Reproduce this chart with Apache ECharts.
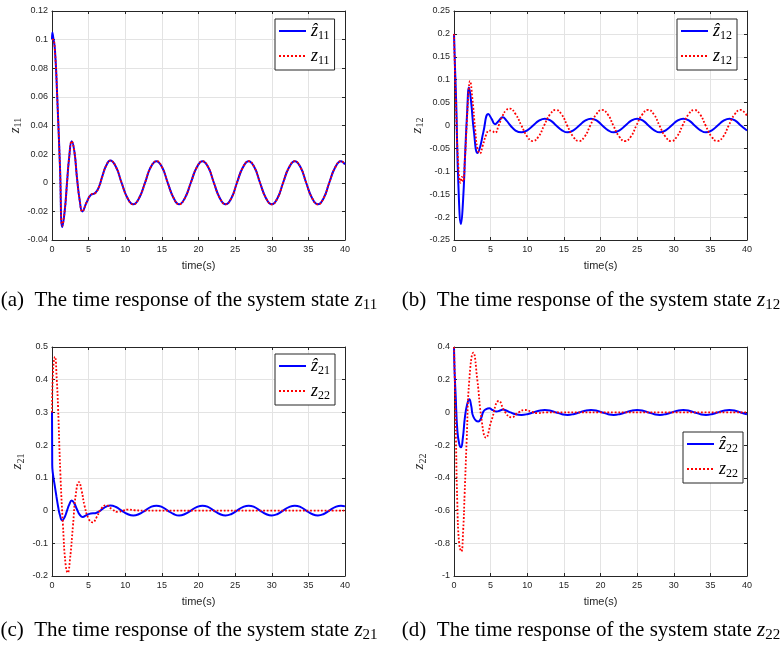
<!DOCTYPE html>
<html>
<head>
<meta charset="utf-8">
<script src="https://cdn.jsdelivr.net/npm/echarts@6/dist/echarts.min.js"></script>
<style>
    html, body { margin: 0; padding: 0; background: #fff; }
    #main { width: 783px; height: 648px; }
</style>
</head>
<body>
<div id="main"></div>
<script>
// axis ranges: [min, max, interval]
var timeRange = [0, 40, 5];
var yRangeA = [-0.04, 0.12, 0.02];
var yRangeB = [-0.25, 0.25, 0.05];
var yRangeC = [-0.2, 0.5, 0.1];
var yRangeD = [-1, 0.4, 0.2];

// steady oscillation read from (a) / (c), shared by the overlapping curves
var tailA = [[7.95, 0.0155], [8.74, 0.011], [9.5, 0], [10.3, -0.0106], [11.1, -0.0151], [11.9, -0.0106],
    [12.7, 0], [13.45, 0.0106], [14.25, 0.0151], [15.05, 0.0106], [15.8, 0], [16.6, -0.0106],
    [17.35, -0.0151], [18.15, -0.0106], [18.95, 0], [19.75, 0.0106], [20.55, 0.0151], [21.35, 0.0106],
    [22.1, 0], [22.9, -0.0106], [23.7, -0.0151], [24.5, -0.0106], [25.25, 0], [26.05, 0.0106],
    [26.85, 0.0151], [27.65, 0.0106], [28.4, 0], [29.2, -0.0106], [30.0, -0.0151], [30.8, -0.0106],
    [31.55, 0], [32.35, 0.0106], [33.15, 0.0151], [33.95, 0.0106], [34.7, 0], [35.5, -0.0106],
    [36.3, -0.0151], [37.1, -0.0106], [37.85, 0], [38.65, 0.0106], [39.45, 0.0151], [40, 0.0128]];

// steady oscillation of the blue estimate in (b) / (d)
var tailB = [[7.2, 0.01], [7.7, 0], [8.4, -0.011], [9.2, -0.015], [10.0, -0.0106], [10.8, 0],
    [11.6, 0.0106], [12.4, 0.015], [13.2, 0.0106], [13.95, 0], [14.75, -0.0106], [15.5, -0.015],
    [16.3, -0.0106], [17.1, 0], [17.9, 0.0106], [18.7, 0.015], [19.5, 0.0106], [20.25, 0],
    [21.05, -0.0106], [21.8, -0.015], [22.6, -0.0106], [23.4, 0], [24.2, 0.0106], [25.0, 0.015],
    [25.8, 0.0106], [26.55, 0], [27.35, -0.0106], [28.1, -0.015], [28.9, -0.0106], [29.7, 0],
    [30.5, 0.0106], [31.3, 0.015], [32.1, 0.0106], [32.85, 0], [33.65, -0.0106], [34.4, -0.015],
    [35.2, -0.0106], [36.0, 0], [36.8, 0.0106], [37.6, 0.015], [38.4, 0.0106], [39.15, 0], [40, -0.011]];

var z11Hat = [[0, 0.1], [0.05, 0.105], [0.15, 0.102], [0.4, 0.093], [0.73, 0.058], [1.09, 0.011],
    [1.41, -0.031], [1.75, -0.019], [2.05, 0], [2.35, 0.018], [2.69, 0.029], [3.05, 0.022], [3.4, 0.004],
    [3.8, -0.013], [4.14, -0.02], [4.7, -0.014], [5.3, -0.0085], [5.9, -0.0072], [6.4, -0.003],
    [6.9, 0.005], [7.4, 0.012]].concat(tailA);

var z11 = [[0, 0.1], [0.15, 0.1], [0.4, 0.092], [0.73, 0.058], [1.09, 0.011], [1.41, -0.03],
    [1.75, -0.019], [2.05, 0], [2.35, 0.018], [2.69, 0.029], [3.05, 0.022], [3.4, 0.004], [3.8, -0.013],
    [4.14, -0.02], [4.7, -0.014], [5.3, -0.0085], [5.9, -0.0072], [6.4, -0.003], [6.9, 0.005],
    [7.4, 0.012]].concat(tailA);

var z12Hat = [[0, 0.2], [0.15, 0.12], [0.3, 0.05], [0.6, -0.13], [0.96, -0.215], [1.25, -0.16],
    [1.5, -0.07], [1.8, 0.03], [2.05, 0.083], [2.35, 0.05], [2.7, -0.01], [3.23, -0.06], [3.6, -0.045],
    [4.0, -0.015], [4.69, 0.025], [5.15, 0.014], [5.6, 0.003], [6.1, 0.01], [6.64, 0.018]].concat(tailB);

var z12 = [[0, 0.2], [0.3, 0.03], [0.6, -0.09], [0.9, -0.125], [1.08, -0.112], [1.25, -0.122],
    [1.5, -0.07], [1.73, 0], [2.0, 0.075], [2.18, 0.097], [2.5, 0.06], [2.9, -0.01], [3.2, -0.05],
    [3.55, -0.061], [3.9, -0.045], [4.4, -0.02], [4.8, -0.011], [5.2, -0.012], [5.6, -0.016], [6.1, 0],
    [6.6, 0.02], [7.1, 0.033], [7.6, 0.037], [8.4, 0.025], [9.2, 0], [10.0, -0.024], [10.75, -0.034],
    [11.55, -0.024], [12.3, 0], [13.1, 0.024], [13.9, 0.034], [14.7, 0.024], [15.45, 0], [16.25, -0.024],
    [17.05, -0.034], [17.85, -0.024], [18.6, 0], [19.4, 0.024], [20.2, 0.034], [21.0, 0.024], [21.75, 0],
    [22.55, -0.024], [23.35, -0.034], [24.15, -0.024], [24.9, 0], [25.7, 0.024], [26.5, 0.034],
    [27.3, 0.024], [28.05, 0], [28.85, -0.024], [29.65, -0.034], [30.45, -0.024], [31.2, 0], [32.0, 0.024],
    [32.8, 0.034], [33.6, 0.024], [34.35, 0], [35.15, -0.024], [35.95, -0.034], [36.75, -0.024], [37.5, 0],
    [38.3, 0.024], [39.1, 0.034], [40, 0.021]];

var z21Hat = [[0, 0.303], [0.03, 0.14], [0.14, 0.11], [0.35, 0.08], [0.6, 0.044], [0.85, 0.01],
    [1.05, -0.011], [1.4, -0.03], [1.75, -0.019], [2.05, 0], [2.35, 0.018], [2.69, 0.031], [3.05, 0.022],
    [3.4, 0.004], [3.8, -0.013], [4.19, -0.0195], [4.7, -0.014], [5.3, -0.009], [5.9, -0.008],
    [6.4, -0.003], [6.9, 0.005], [7.4, 0.012]].concat(tailA);

var z22c = [[0, 0.3], [0.15, 0.43], [0.41, 0.47], [0.65, 0.4], [0.82, 0.32], [1.14, 0.115],
    [1.5, -0.047], [1.86, -0.165], [2.15, -0.19], [2.45, -0.15], [2.86, -0.047], [3.25, 0.05],
    [3.68, 0.087], [4.05, 0.06], [4.45, 0.014], [5.0, -0.025], [5.55, -0.036], [6.1, -0.02], [6.7, 0.005],
    [7.45, 0.016], [8.2, 0.004], [9.0, -0.004], [9.7, 0], [10.4, 0.003], [11.3, 0.001], [12.5, 0],
    [20, 0], [30, 0], [40, 0]];

var z22Hat = [[0, 0.4], [0.08, 0.25], [0.23, 0.1], [0.45, -0.107], [0.7, -0.19], [0.95, -0.213],
    [1.2, -0.16], [1.5, -0.026], [1.8, 0.05], [2.09, 0.08], [2.35, 0.04], [2.64, -0.026], [3.32, -0.056],
    [3.7, -0.035], [4.0, 0.004], [4.4, 0.02], [4.82, 0.025], [5.3, 0.014], [5.8, 0.006], [6.2, 0.01],
    [6.7, 0.018]].concat(tailB);

var z22d = [[0, 0.4], [0.09, 0.24], [0.27, -0.17], [0.45, -0.55], [0.7, -0.8], [1.0, -0.85],
    [1.25, -0.72], [1.45, -0.5], [1.73, -0.17], [2.09, 0.2], [2.64, 0.365], [3.18, 0.2], [3.77, -0.045],
    [4.36, -0.154], [5.14, -0.046], [6.14, 0.07], [6.95, 0.004], [7.86, -0.03], [8.8, 0], [9.7, 0.015],
    [10.6, 0.004], [11.4, -0.004], [12.5, 0], [20, 0], [30, 0], [40, 0]];

var panelSub = ['11', '12', '21', '22'];
var panelTag = ['(a)', '(b)', '(c)', '(d)'];
var legendNames = [['z11Hat', 'z11'], ['z12Hat', 'z12'], ['z21Hat', 'z22c'], ['z22Hat', 'z22d']];
var legendLabels = {
    z11Hat: '{z|ẑ}{s|11}', z11: '{z|z}{s|11}',
    z12Hat: '{z|ẑ}{s|12}', z12: '{z|z}{s|12}',
    z21Hat: '{z|ẑ}{s|21}', z22c: '{z|z}{s|22}',
    z22Hat: '{z|ẑ}{s|22}', z22d: '{z|z}{s|22}'
};

var grids = [
    {left: 52, top: 11, width: 293, height: 229},
    {left: 454, top: 11, width: 293, height: 229},
    {left: 52, top: 347, width: 293, height: 229},
    {left: 454, top: 347, width: 293, height: 229}
];
var legendPos = [[275, 19], [677, 19], [275, 354], [683, 432]];
var captionPos = [[189, 300], [591, 300], [189, 630], [591, 630]];
var yRanges = [yRangeA, yRangeB, yRangeC, yRangeD];

var ink = '#262626';
var tickFont = 'Liberation Sans';
var mathFont = 'Liberation Serif';

var xAxes = [];
var yAxes = [];
grids.forEach(function (g, i) {
    xAxes.push({
        gridIndex: i, type: 'value', position: 'bottom',
        min: timeRange[0], max: timeRange[1], interval: timeRange[2],
        name: 'time(s)', nameLocation: 'middle', nameGap: 20,
        nameTextStyle: {fontFamily: tickFont, fontSize: 11, color: ink},
        axisLine: {onZero: false, lineStyle: {color: ink, width: 1}},
        axisTick: {inside: true, length: 3, lineStyle: {color: ink}},
        axisLabel: {fontFamily: tickFont, fontSize: 9, color: ink, margin: 5},
        splitLine: {show: true, lineStyle: {color: '#e3e3e3', width: 1}}
    });
    xAxes.push({
        gridIndex: i, type: 'value', position: 'top',
        min: timeRange[0], max: timeRange[1], interval: timeRange[2],
        axisLine: {onZero: false, lineStyle: {color: ink, width: 1}},
        axisTick: {inside: true, length: 3, lineStyle: {color: ink}},
        axisLabel: {show: false},
        splitLine: {show: false}
    });
    var yr = yRanges[i];
    yAxes.push({
        gridIndex: i, type: 'value', position: 'left',
        min: yr[0], max: yr[1], interval: yr[2],
        name: '{z|z}{s|' + panelSub[i] + '}', nameLocation: 'middle', nameGap: 26, nameRotate: 90,
        nameTextStyle: {
            color: ink,
            rich: {
                z: {fontFamily: mathFont, fontStyle: 'italic', fontSize: 15, lineHeight: 18, color: ink},
                s: {fontFamily: mathFont, fontSize: 10, lineHeight: 10, verticalAlign: 'bottom', color: ink}
            }
        },
        axisLine: {onZero: false, lineStyle: {color: ink, width: 1}},
        axisTick: {inside: true, length: 3, lineStyle: {color: ink}},
        axisLabel: {fontFamily: tickFont, fontSize: 9, color: ink, margin: 4},
        splitLine: {show: true, lineStyle: {color: '#e3e3e3', width: 1}}
    });
    yAxes.push({
        gridIndex: i, type: 'value', position: 'right',
        min: yr[0], max: yr[1], interval: yr[2],
        axisLine: {onZero: false, lineStyle: {color: ink, width: 1}},
        axisTick: {inside: true, length: 3, lineStyle: {color: ink}},
        axisLabel: {show: false},
        splitLine: {show: false}
    });
});

var seriesData = [[z11Hat, z11], [z12Hat, z12], [z21Hat, z22c], [z22Hat, z22d]];
var series = [];
seriesData.forEach(function (pair, i) {
    series.push({
        name: legendNames[i][0], type: 'line', xAxisIndex: 2 * i, yAxisIndex: 2 * i,
        data: pair[0], symbol: 'none', smooth: 0.5,
        lineStyle: {color: '#0000ff', width: 2},
        itemStyle: {color: '#0000ff'}
    });
    series.push({
        name: legendNames[i][1], type: 'line', xAxisIndex: 2 * i, yAxisIndex: 2 * i,
        data: pair[1], symbol: 'none', smooth: 0.5,
        lineStyle: {color: '#ff0000', width: 1.8, type: 'dotted'},
        itemStyle: {color: '#ff0000'}
    });
});

var legends = legendNames.map(function (names, i) {
    return {
        data: names, orient: 'vertical',
        left: legendPos[i][0], top: legendPos[i][1],
        itemWidth: 27, itemHeight: 10, itemGap: 5, itemTextGap: 4,
        padding: [3, 5, 3, 3],
        backgroundColor: '#fff', borderColor: ink, borderWidth: 1, borderRadius: 0,
        selectedMode: false,
        // only the line sample, no marker on it
        itemStyle: {opacity: 0},
        formatter: function (name) { return legendLabels[name]; },
        textStyle: {
            color: '#000',
            rich: {
                z: {fontFamily: mathFont, fontStyle: 'italic', fontSize: 18, lineHeight: 22, color: '#000'},
                s: {fontFamily: mathFont, fontSize: 12, lineHeight: 12, verticalAlign: 'bottom', color: '#000'}
            }
        }
    };
});

var captions = captionPos.map(function (p, i) {
    return {
        type: 'text', x: p[0], y: p[1],
        style: {
            text: panelTag[i] + '  The time response of the system state {z|z}{s|' + panelSub[i] + '}',
            fill: '#000', fontFamily: mathFont, fontSize: 21,
            align: 'center', verticalAlign: 'middle',
            textAlign: 'center', textVerticalAlign: 'middle',
            rich: {
                z: {fontFamily: mathFont, fontStyle: 'italic', fontSize: 21, lineHeight: 25},
                s: {fontFamily: mathFont, fontSize: 15, lineHeight: 15, verticalAlign: 'bottom'}
            }
        }
    };
});

var chart = echarts.init(document.getElementById('main'), null, {renderer: 'canvas'});
chart.setOption({
    animation: false,
    backgroundColor: '#fff',
    grid: grids,
    xAxis: xAxes,
    yAxis: yAxes,
    legend: legends,
    series: series,
    graphic: captions
});
</script>
</body>
</html>
